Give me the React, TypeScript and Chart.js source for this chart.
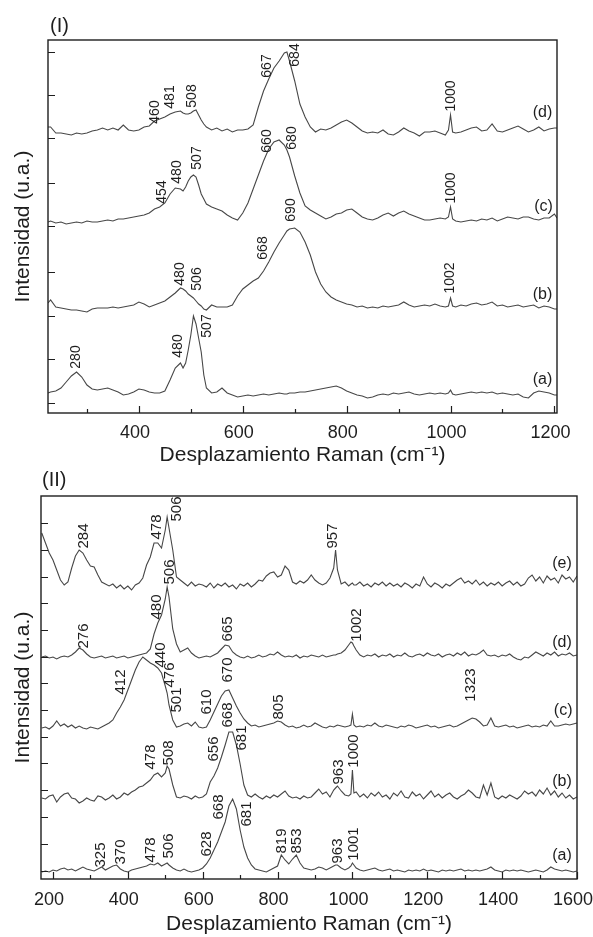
import React, { useEffect, useRef } from 'react';
import { Chart, registerables } from 'chart.js';

Chart.register(...registerables);

const FONT = "'Liberation Sans', Arial, Helvetica, sans-serif";
const INK = '#1e1e1e';
const LINE = '#474747';

// ---------- Panel (I) ----------
const waveI = [
  225, 230, 240, 250, 260, 270, 280, 290, 300, 310,
  320, 330, 340, 350, 360, 370, 380, 390, 400, 410,
  420, 430, 440, 450, 460, 470, 480, 485, 490, 495,
  500, 505, 510, 515, 520, 525, 530, 540, 550, 560,
  570, 580, 590, 600, 610, 620, 630, 640, 650, 660,
  670, 680, 685, 690, 700, 710, 720, 730, 740, 750,
  760, 770, 780, 790, 800, 810, 820, 830, 840, 850,
  860, 870, 880, 890, 900, 910, 920, 930, 940, 950,
  960, 970, 980, 990, 996, 1000, 1004, 1010, 1020, 1030,
  1040, 1050, 1060, 1070, 1080, 1090, 1100, 1110, 1120, 1130,
  1140, 1150, 1160, 1170, 1180, 1190, 1200, 1205,
];

const specI_d = [
  286, 286, 280, 280, 279, 278, 280, 279, 280, 282,
  283, 285, 283, 285, 283, 288, 283, 282, 283, 286,
  287, 292, 294, 296, 299, 301, 302, 300, 299, 299,
  300, 302, 303, 298, 293, 289, 286, 283, 285, 282,
  284, 281, 283, 283, 284, 288, 306, 322, 334, 345,
  352, 360, 361, 352, 332, 309, 296, 286, 281, 284,
  283, 285, 288, 291, 293, 290, 286, 282, 280, 281,
  280, 283, 279, 278, 281, 285, 282, 280, 277, 281,
  281, 282, 280, 278, 283, 298, 281, 280, 281, 283,
  285, 286, 282, 283, 289, 282, 281, 283, 285, 287,
  284, 281, 283, 286, 282, 284, 285, 285,
];

const specI_c = [
  191, 192, 190, 191, 189, 190, 191, 190, 192, 191,
  191, 192, 193, 192, 194, 194, 195, 196, 197, 198,
  200, 204, 206, 210, 219, 225, 224, 222, 226, 232,
  236, 238, 236, 228, 219, 214, 209, 206, 204, 202,
  198, 195, 193, 200, 210, 224, 238, 252, 264, 271,
  273, 268, 263, 256, 237, 220, 207, 203, 200, 197,
  194, 196, 199, 200, 203, 204, 200, 196, 194, 193,
  195, 198, 200, 197, 200, 202, 199, 197, 195, 193,
  193, 194, 195, 194, 196, 206, 194, 192, 191, 192,
  193, 192, 194, 193, 195, 192, 194, 196, 195, 194,
  196, 196, 194, 193, 195, 195, 199, 195,
];

const specI_b = [
  110, 113, 106, 105, 104, 103, 103, 102, 101, 104,
  105, 105, 105, 106, 105, 106, 107, 108, 111, 109,
  106, 108, 110, 112, 116, 120, 125, 124, 122, 119,
  117, 115, 112, 109, 107, 104, 103, 108, 106, 106,
  106, 108, 117, 124, 128, 132, 135, 142, 151, 161,
  170, 178, 182, 184, 185, 181, 171, 158, 141, 129,
  121, 116, 113, 111, 109, 108, 106, 107, 105, 106,
  105, 107, 106, 107, 108, 111, 108, 106, 107, 108,
  107, 109, 107, 106, 107, 115, 107, 106, 108, 107,
  109, 110, 108, 109, 111, 107, 108, 106, 107, 108,
  106, 107, 108, 105, 107, 106, 104, 104,
];

const specI_a = [
  20, 21, 22, 25, 31, 37, 41, 36, 28, 24,
  23, 24, 25, 23, 21, 18, 19, 21, 24, 23,
  21, 20, 20, 22, 33, 45, 50, 45, 50, 63,
  78, 97, 89, 75, 61, 38, 25, 20, 21, 25,
  20, 18, 16, 17, 18, 17, 18, 19, 18, 19,
  20, 19, 19, 20, 20, 21, 21, 22, 23, 24,
  25, 26, 27, 25, 22, 20, 18, 17, 15, 16,
  18, 19, 18, 20, 19, 20, 21, 19, 18, 19,
  20, 19, 20, 19, 20, 23, 19, 18, 19, 20,
  21, 20, 21, 20, 21, 19, 20, 19, 18, 19,
  16, 15, 20, 22, 21, 20, 18, 18,
];

const xMajorI = [400, 600, 800, 1000, 1200];
const xMinorI = [300, 500, 700, 900, 1100];
const yTicksI = [10, 54, 97, 141, 187, 230, 275, 318, 361];

const peaksI = [
  { t: '460', x: 431, y: 301 }, { t: '481', x: 460, y: 316 }, { t: '508', x: 502, y: 317 },
  { t: '667', x: 646, y: 347 }, { t: '684', x: 700, y: 358 }, { t: '1000', x: 1002, y: 317 },
  { t: '454', x: 444, y: 221 }, { t: '480', x: 473, y: 241 }, { t: '507', x: 512, y: 255 },
  { t: '660', x: 646, y: 272 }, { t: '680', x: 696, y: 275 }, { t: '1000', x: 1002, y: 225 },
  { t: '480', x: 479, y: 139 }, { t: '506', x: 513, y: 134 }, { t: '668', x: 640, y: 165 },
  { t: '690', x: 694, y: 203 }, { t: '1002', x: 1000, y: 135 },
  { t: '280', x: 279, y: 56 }, { t: '480', x: 475, y: 67 }, { t: '507', x: 531, y: 87 },
];
const tagsI = [
  { t: '(d)', x: 1177, y: 300 }, { t: '(c)', x: 1179, y: 206 },
  { t: '(b)', x: 1177, y: 118 }, { t: '(a)', x: 1177, y: 33 },
];

// ---------- Panel (II) ----------
const waveII = [
  170, 180, 190, 200, 210, 220, 230, 240, 250, 260,
  270, 280, 290, 300, 310, 320, 330, 340, 350, 360,
  370, 380, 390, 400, 410, 420, 430, 440, 450, 460,
  470, 480, 490, 500, 505, 510, 520, 530, 540, 550,
  560, 570, 580, 590, 600, 610, 620, 630, 640, 650,
  660, 670, 680, 690, 700, 710, 720, 730, 740, 750,
  760, 770, 780, 790, 800, 810, 820, 830, 840, 850,
  860, 870, 880, 890, 900, 910, 920, 930, 940, 950,
  955, 960, 970, 980, 990, 996, 1000, 1004, 1010, 1020,
  1030, 1040, 1050, 1060, 1070, 1080, 1090, 1100, 1110, 1120,
  1130, 1140, 1150, 1160, 1170, 1180, 1190, 1200, 1210, 1220,
  1230, 1240, 1250, 1260, 1270, 1280, 1290, 1300, 1310, 1320,
  1330, 1340, 1350, 1360, 1370, 1380, 1390, 1400, 1410, 1420,
  1430, 1440, 1450, 1460, 1470, 1480, 1490, 1500, 1510, 1520,
  1530, 1540, 1550, 1560, 1570, 1580, 1590, 1600,
];

const specII_e = [
  346, 336, 326, 319, 309, 299, 294, 297, 311, 323,
  329, 326, 319, 313, 312, 304, 297, 295, 293, 295,
  291, 294, 290, 293, 289, 294, 296, 301, 314, 322,
  336, 336, 331, 349, 362, 351, 329, 302, 299, 296,
  293, 297, 293, 295, 294, 292, 296, 291, 295, 293,
  296, 292, 294, 290, 295, 293, 296, 292, 295, 299,
  298, 303, 306, 307, 302, 304, 313, 309, 297, 295,
  298, 296, 299, 304, 299, 296, 294, 296, 301, 311,
  329, 309, 295, 297, 293, 295, 296, 294, 294, 297,
  293, 295, 292, 296, 294, 297, 293, 296, 293, 295,
  292, 296, 294, 291, 295, 293, 302, 295, 292, 296,
  294, 291, 295, 293, 296, 299, 301, 296, 298, 295,
  299, 294, 297, 293, 296, 294, 297, 293, 296, 298,
  294, 297, 293, 295, 301, 304, 298, 302, 296, 303,
  299, 301, 296, 304, 300, 302, 297, 303,
];

const specII_d = [
  222, 223, 221, 222, 220, 222, 223, 222, 224, 227,
  231, 229, 225, 222, 221, 222, 223, 221, 222, 223,
  221, 222, 223, 221, 222, 223, 224, 225, 226, 230,
  245, 256, 264, 280, 292, 282, 250, 235, 227, 229,
  231, 226, 223, 221, 222, 223, 222, 224, 226, 230,
  234, 233, 227, 224, 222, 221, 223, 221, 222, 224,
  222, 223, 225, 224, 227, 224, 222, 223, 222, 224,
  221, 223, 222, 224, 223, 222, 224, 222, 223, 224,
  224, 225, 226, 229, 234, 237, 236, 233, 229, 224,
  222, 224, 223, 225, 222, 224, 223, 225, 222, 224,
  223, 226, 223, 222, 224, 225, 223, 226, 224, 223,
  225, 222, 224, 225, 223, 226, 224, 227, 223, 225,
  224, 226, 229, 224, 223, 224, 222, 224, 223, 225,
  222, 220, 219, 222, 221, 224, 227, 225, 223, 226,
  224, 227, 223, 225, 224, 226, 223, 224,
];

const specII_c = [
  151, 152, 150, 153, 158, 153, 155, 152, 154, 151,
  153, 151, 150, 152, 151, 150, 152, 154, 156, 159,
  166, 172, 179, 189, 199, 209, 217, 222, 219, 216,
  214, 211, 206, 193, 186, 174, 159, 152, 153, 155,
  156, 153, 157, 152, 151, 152, 159, 167, 175, 183,
  188, 189, 181, 173, 166, 160, 156, 153, 154, 152,
  153, 154, 155, 156, 158, 157, 154, 152, 153, 151,
  152, 154, 152, 153, 156, 154, 152, 151, 153, 152,
  153, 154, 153, 152, 153, 154, 165, 154, 152, 153,
  152, 154, 153, 156, 153, 152, 154, 153, 152, 151,
  153, 152, 154, 153, 151, 152, 153, 154, 152, 153,
  151, 152, 153, 154, 152, 153, 155, 157, 159, 161,
  160, 157, 153, 154, 161, 153, 152, 153, 154, 152,
  153, 151, 152, 153, 154, 152, 153, 152, 154, 153,
  158, 153, 153, 154, 155, 154, 155, 156,
];

const specII_b = [
  81, 80, 83, 84, 77, 82, 85, 86, 81, 80,
  76, 78, 81, 79, 78, 83, 82, 79, 81, 84,
  80, 82, 86, 84, 87, 89, 92, 93, 96, 99,
  104, 106, 102, 106, 113, 110, 94, 82, 81, 83,
  82, 80, 83, 81, 82, 85, 97, 103, 111, 122,
  134, 147, 147, 134, 115, 94, 84, 82, 85, 82,
  80, 83, 81, 84, 82, 85, 88, 83, 81, 82,
  80, 83, 81, 82, 86, 90, 85, 87, 82, 89,
  91, 93, 88, 84, 83, 85, 109, 86, 87, 82,
  85, 81, 86, 83, 87, 82, 84, 80, 86, 83,
  88, 82, 81, 87, 83, 85, 80, 84, 88, 82,
  85, 81, 84, 86, 82, 80, 83, 85, 89, 86,
  82, 81, 94, 84, 96, 82, 80, 83, 81, 84,
  82, 80, 83, 88, 85, 87, 83, 89, 85, 91,
  84, 88, 82, 86, 81, 84, 80, 82,
];

const specII_a = [
  7, 8, 7, 9, 8, 10, 11, 9, 10, 8,
  10, 12, 10, 9, 8, 10, 12, 9, 11, 13,
  14, 10, 8, 7, 9, 10, 11, 12, 13, 15,
  14, 16, 13, 15, 16, 14, 11, 9, 8, 10,
  8, 7, 8, 9, 11, 15, 21, 29, 37, 47,
  57, 73, 80, 70, 49, 32, 21, 14, 10, 9,
  8, 7, 9, 11, 13, 24, 19, 15, 20, 24,
  16, 11, 10, 9, 10, 12, 11, 9, 11, 13,
  14, 14, 11, 9, 11, 13, 16, 14, 11, 9,
  8, 9, 10, 11, 9, 8, 9, 10, 8, 9,
  8, 7, 9, 8, 9, 8, 10, 8, 9, 8,
  7, 9, 8, 9, 8, 9, 10, 8, 9, 8,
  9, 8, 9, 10, 12, 9, 8, 7, 9, 8,
  9, 8, 9, 8, 7, 8, 9, 8, 7, 9,
  12, 10, 9, 8, 9, 8, 7, 8,
];

const xMajorII = [200, 400, 600, 800, 1000, 1200, 1400, 1600];
const xMinorII = [300, 500, 700, 900, 1100, 1300, 1500];
const yTicksII = [8, 35, 62, 89, 116, 142, 169, 196, 222, 249, 276, 302, 329, 356];

const peaksII = [
  { t: '284', x: 283, y: 343 }, { t: '478', x: 477, y: 352 }, { t: '506', x: 531, y: 370 },
  { t: '957', x: 949, y: 343 },
  { t: '276', x: 283, y: 243 }, { t: '480', x: 477, y: 272 }, { t: '506', x: 512, y: 307 },
  { t: '665', x: 667, y: 250 }, { t: '1002', x: 1011, y: 254 },
  { t: '412', x: 381, y: 197 }, { t: '440', x: 488, y: 224 }, { t: '476', x: 512, y: 204 },
  { t: '501', x: 531, y: 179 }, { t: '610', x: 611, y: 177 }, { t: '670', x: 667, y: 209 },
  { t: '805', x: 803, y: 172 }, { t: '1323', x: 1317, y: 194 },
  { t: '478', x: 461, y: 122 }, { t: '508', x: 509, y: 126 }, { t: '656', x: 629, y: 130 },
  { t: '668', x: 667, y: 164 }, { t: '681', x: 704, y: 141 }, { t: '963', x: 963, y: 107 },
  { t: '1000', x: 1003, y: 128 },
  { t: '325', x: 328, y: 24 }, { t: '370', x: 381, y: 27 }, { t: '478', x: 461, y: 29 },
  { t: '506', x: 509, y: 33 }, { t: '628', x: 611, y: 35 }, { t: '668', x: 643, y: 72 },
  { t: '681', x: 717, y: 65 }, { t: '819', x: 811, y: 38 }, { t: '853', x: 851, y: 38 },
  { t: '963', x: 960, y: 28 }, { t: '1001', x: 1003, y: 35 },
];
const tagsII = [
  { t: '(e)', x: 1560, y: 315 }, { t: '(d)', x: 1560, y: 236 }, { t: '(c)', x: 1563, y: 168 },
  { t: '(b)', x: 1560, y: 97 }, { t: '(a)', x: 1560, y: 23 },
];

type Lbl = { t: string; x: number; y: number };
type PanelSpec = {
  name: string;
  wave: number[];
  series: number[][];
  xMin: number; xMax: number; yMax: number;
  xMajor: number[]; xMinor: number[]; yTicks: number[];
  peaks: Lbl[]; tags: Lbl[];
  height: number; padTop: number; padRight: number; yAxisW: number; xAxisH: number;
  tickPad: number; xTitlePad: number; peakSize: number; tagSize: number;
  nameDx: number; nameDy: number;
};

function makeOverlay(p: PanelSpec) {
  return {
    id: 'overlay-' + p.name,
    afterDraw(chart: any) {
      const { ctx, chartArea: a } = chart;
      const xs = chart.scales.x;
      const ys = chart.scales.y;
      ctx.save();
      ctx.strokeStyle = INK;
      ctx.lineWidth = 1.4;
      ctx.strokeRect(a.left, a.top, a.right - a.left, a.bottom - a.top);
      ctx.lineWidth = 1.2;
      ctx.beginPath();
      p.yTicks.forEach((v) => {
        const py = Math.round(ys.getPixelForValue(v)) + 0.5;
        ctx.moveTo(a.left, py);
        ctx.lineTo(a.left + 7, py);
      });
      p.xMajor.forEach((v) => {
        const px = Math.round(xs.getPixelForValue(v)) + 0.5;
        ctx.moveTo(px, a.bottom);
        ctx.lineTo(px, a.bottom - 7);
      });
      p.xMinor.forEach((v) => {
        const px = Math.round(xs.getPixelForValue(v)) + 0.5;
        ctx.moveTo(px, a.bottom);
        ctx.lineTo(px, a.bottom - 4);
      });
      ctx.stroke();

      ctx.fillStyle = INK;
      ctx.textAlign = 'center';
      ctx.textBaseline = 'middle';
      ctx.font = `${p.peakSize}px ${FONT}`;
      p.peaks.forEach((l) => {
        ctx.save();
        ctx.translate(xs.getPixelForValue(l.x), ys.getPixelForValue(l.y));
        ctx.rotate(-Math.PI / 2);
        ctx.fillText(l.t, 0, 0);
        ctx.restore();
      });
      ctx.font = `${p.tagSize}px ${FONT}`;
      p.tags.forEach((l) => {
        ctx.fillText(l.t, xs.getPixelForValue(l.x), ys.getPixelForValue(l.y));
      });
      ctx.font = `20px ${FONT}`;
      ctx.textAlign = 'left';
      ctx.fillText(p.name, a.left + p.nameDx, a.top - p.nameDy);
      ctx.restore();
    },
  };
}

function buildConfig(p: PanelSpec): any {
  return {
    type: 'line',
    data: {
      datasets: p.series.map((s) => ({
        data: p.wave.map((w, i) => ({ x: w, y: s[i] })),
        borderColor: LINE,
        borderWidth: 1.1,
        pointRadius: 0,
        fill: false,
        tension: 0,
      })),
    },
    options: {
      animation: false,
      responsive: false,
      devicePixelRatio: 1,
      layout: { padding: { left: 0, top: p.padTop, right: p.padRight, bottom: 0 } },
      plugins: { legend: { display: false }, tooltip: { enabled: false } },
      scales: {
        x: {
          type: 'linear',
          min: p.xMin,
          max: p.xMax,
          grid: { display: false, drawTicks: false },
          border: { display: false },
          ticks: {
            autoSkip: false,
            maxRotation: 0,
            padding: p.tickPad,
            labelOffset: -4,
            color: INK,
            font: { family: FONT, size: 18 },
            callback: (v: any) => String(v),
          },
          afterBuildTicks: (s: any) => {
            s.ticks = p.xMajor.map((v) => ({ value: v }));
          },
          afterFit: (s: any) => {
            s.height = p.xAxisH;
            s.paddingLeft = 0;
            s.paddingRight = 0;
          },
          title: {
            display: true,
            text: 'Desplazamiento Raman (cm⁻¹)',
            color: INK,
            font: { family: FONT, size: 21 },
            padding: { top: 0, bottom: p.xTitlePad },
          },
        },
        y: {
          type: 'linear',
          min: 0,
          max: p.yMax,
          grid: { display: false, drawTicks: false },
          border: { display: false },
          ticks: { display: false },
          afterFit: (s: any) => {
            s.width = p.yAxisW;
          },
          title: {
            display: true,
            text: 'Intensidad (u.a.)',
            color: INK,
            font: { family: FONT, size: 21 },
            padding: { top: 11, bottom: 0 },
          },
        },
      },
    },
    plugins: [makeOverlay(p)],
  };
}

const panelI: PanelSpec = {
  name: '(I)',
  wave: waveI,
  series: [specI_d, specI_c, specI_b, specI_a],
  xMin: 225, xMax: 1205, yMax: 373,
  xMajor: xMajorI, xMinor: xMinorI, yTicks: yTicksI,
  peaks: peaksI, tags: tagsI,
  height: 470, padTop: 40, padRight: 36, yAxisW: 48, xAxisH: 57,
  tickPad: 9, xTitlePad: 2, peakSize: 14, tagSize: 16,
  nameDx: 2, nameDy: 14,
};

const panelII: PanelSpec = {
  name: '(II)',
  wave: waveII,
  series: [specII_e, specII_d, specII_c, specII_b, specII_a],
  xMin: 168, xMax: 1600, yMax: 383,
  xMajor: xMajorII, xMinor: xMinorII, yTicks: yTicksII,
  peaks: peaksII, tags: tagsII,
  height: 467, padTop: 26, padRight: 16, yAxisW: 41, xAxisH: 58,
  tickPad: 10, xTitlePad: 0, peakSize: 15, tagSize: 16,
  nameDx: 1, nameDy: 16,
};

function Panel({ spec, top }: { spec: PanelSpec; top: number }) {
  const ref = useRef<HTMLCanvasElement>(null);
  useEffect(() => {
    if (!ref.current) return;
    const chart = new Chart(ref.current, buildConfig(spec));
    return () => chart.destroy();
  }, [spec]);
  return (
    <canvas
      ref={ref}
      width={593}
      height={spec.height}
      style={{ position: 'absolute', left: 0, top, width: 593, height: spec.height }}
    />
  );
}

export default function App() {
  return (
    <div style={{ position: 'absolute', left: 0, top: 0, width: 593, height: 937, background: '#fff' }}>
      <Panel spec={panelI} top={0} />
      <Panel spec={panelII} top={470} />
    </div>
  );
}
